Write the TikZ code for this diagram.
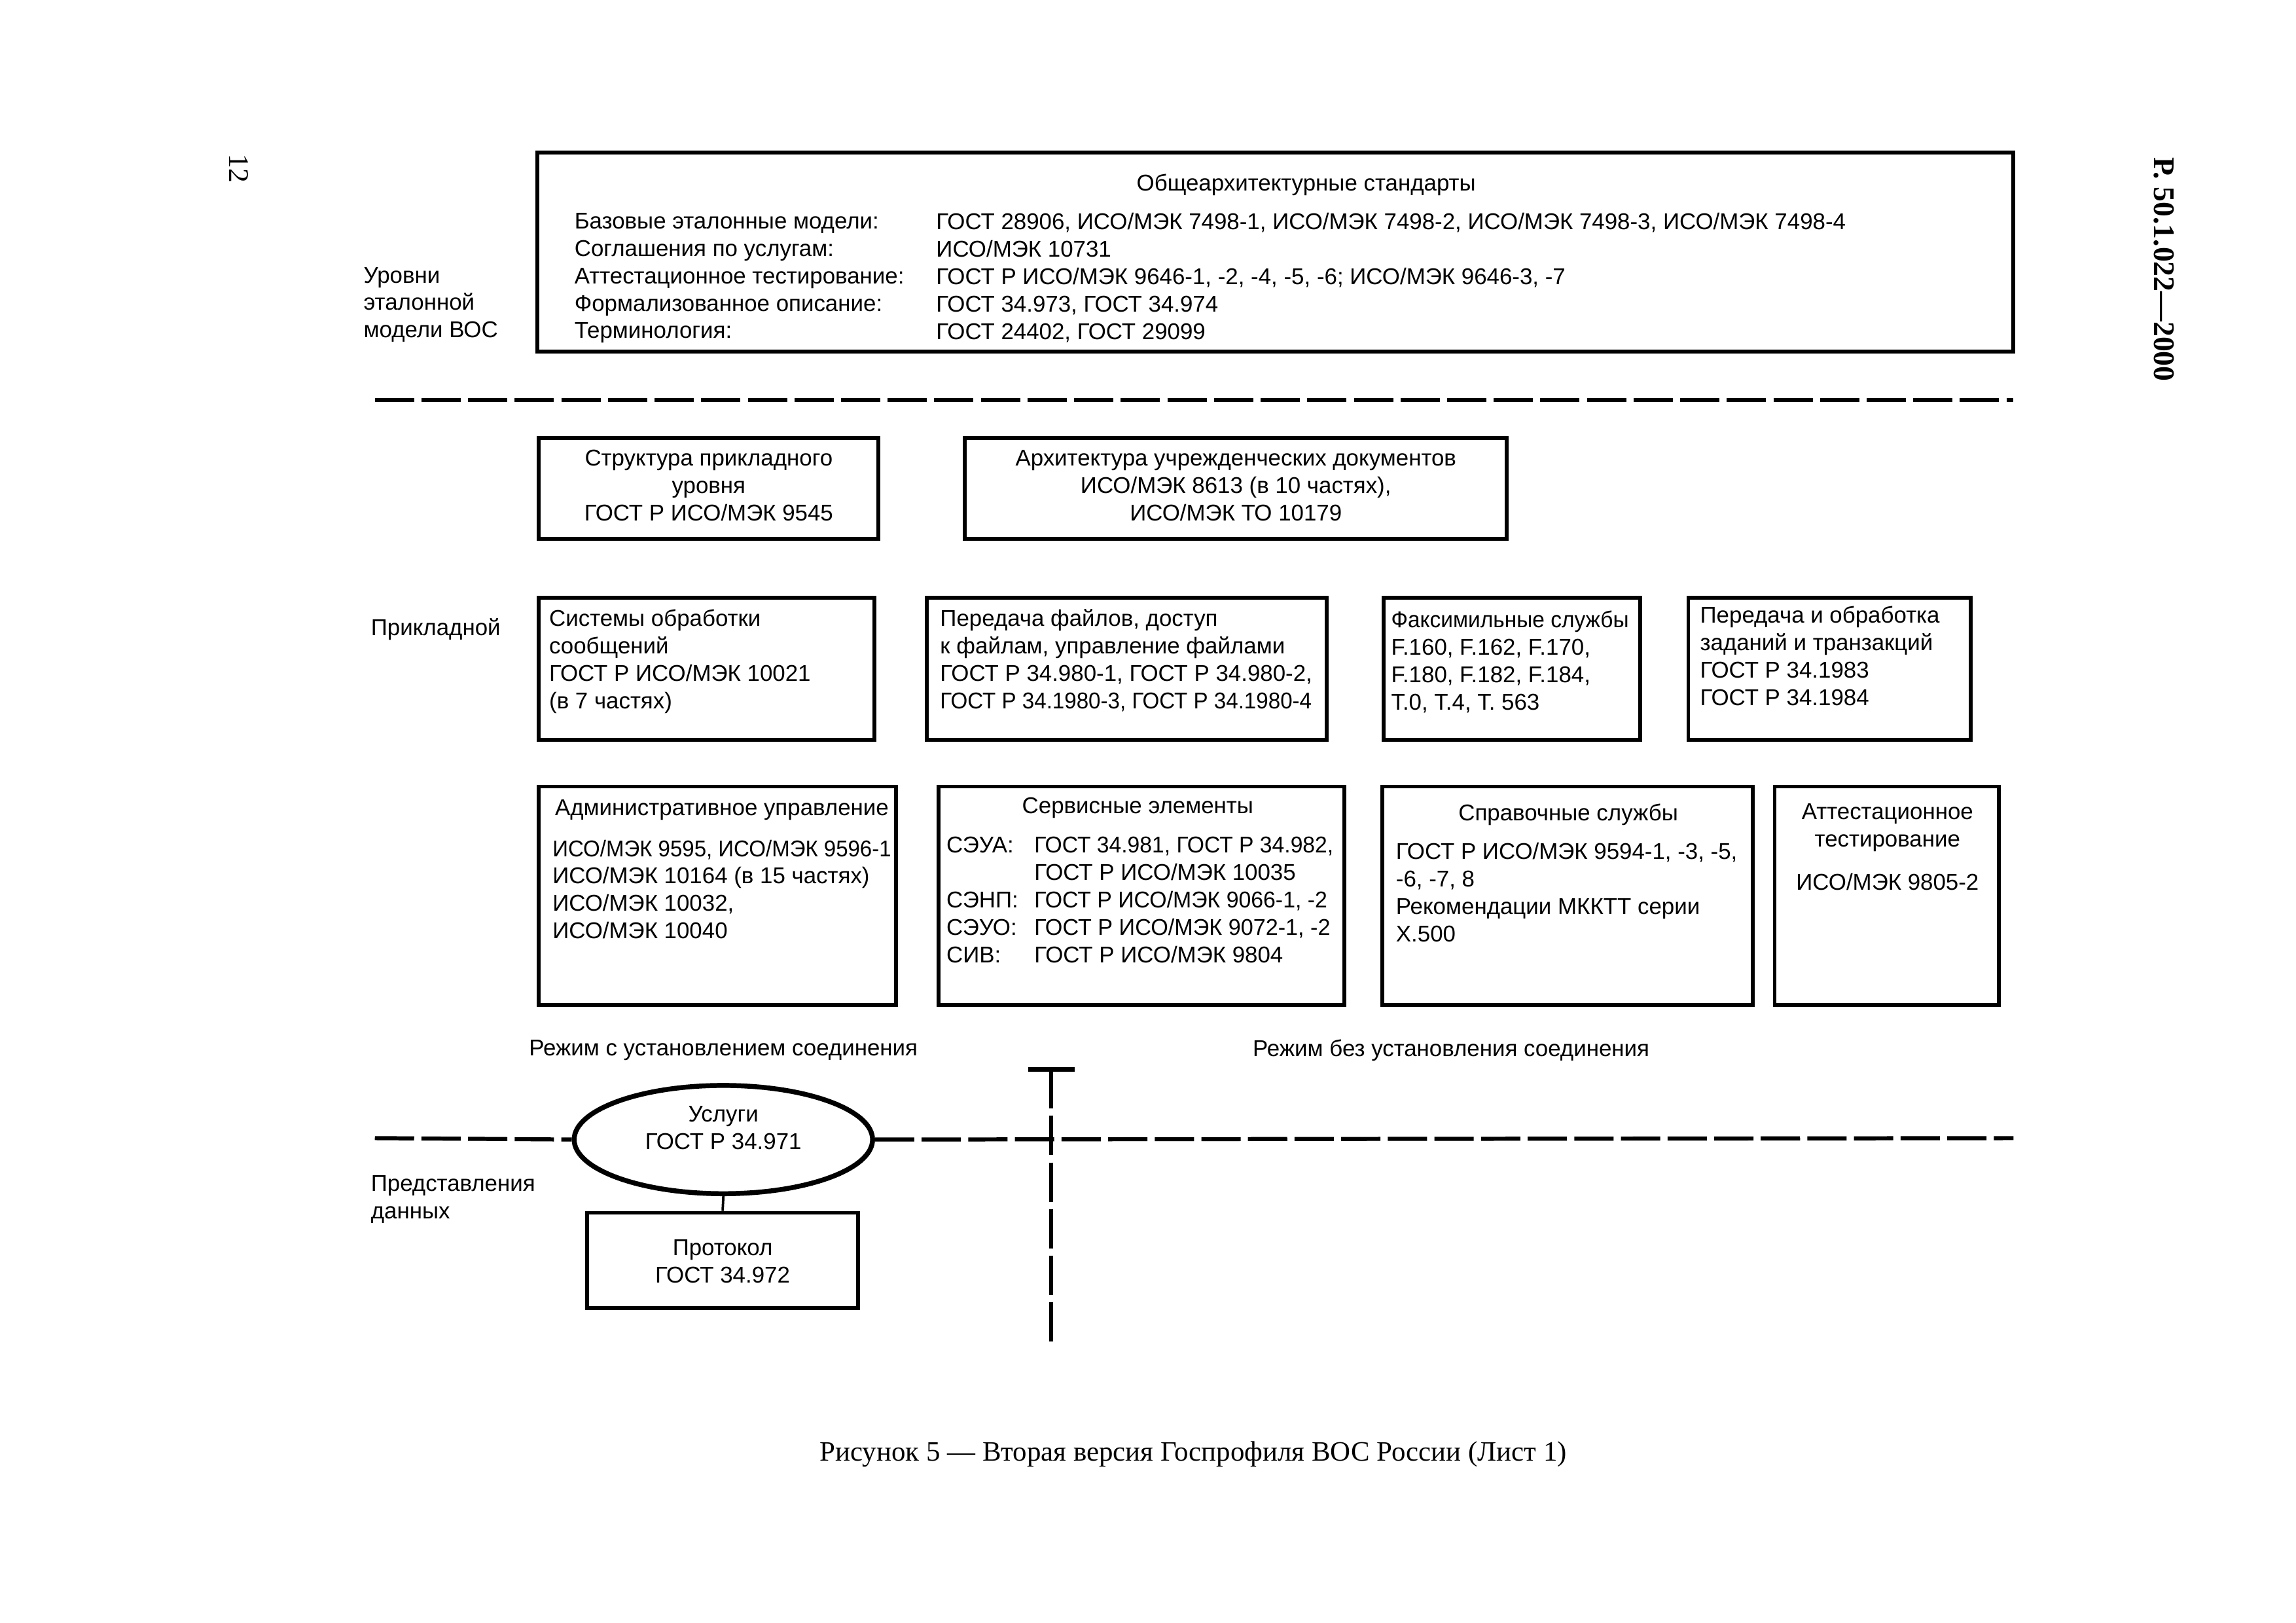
\documentclass[tikz,border=0pt]{standalone}
\usepackage{fontspec}
\setmainfont{Liberation Serif}
\setsansfont{Liberation Sans}
\usetikzlibrary{positioning, fit, shapes.geometric}
\newcommand{\diagfont}{\fontsize{8.4}{10.1}\selectfont}
\newcommand{\squeeze}[2]{{\addfontfeature{FakeStretch=#1}#2}}

\begin{document}
\begin{tikzpicture}[
    x=0.18941mm, y=-0.18941mm,
    box/.style={draw, line width=1.4pt, inner sep=0pt},
    txt/.style={inner sep=0pt, anchor=north west, align=left, font=\sffamily\diagfont},
    heading/.style={inner sep=0pt, align=center, font=\sffamily\diagfont},
    level/.style={line width=1.5pt, dash pattern=on 5.08mm off 0.95mm},
    link/.style={line width=0.9pt}
]
\useasboundingbox (0,0) rectangle (1568,1108);

% Page marks
\node[rotate=-90, font=\fontsize{10.5}{12}\selectfont] (pageno) at (163,115) {12};
\node[rotate=-90, font=\fontsize{11}{13}\selectfont\bfseries] (docno) at (1478,184) {Р. 50.1.022---2000};

% General architecture standards
\node[box, fit={(367,104)(1375,240)}] (general) {};
\node[heading] (generaltitle) at (892,126) {Общеархитектурные стандарты};
\node[txt] (genkeys) at (392,145) {Базовые эталонные модели:\\Соглашения по услугам:\\Аттестационное тестирование:\\Формализованное описание:\\Терминология:};
\node[txt] (genvals) at (639,145) {ГОСТ 28906, ИСО/МЭК 7498-1, ИСО/МЭК 7498-2, ИСО/МЭК 7498-3, ИСО/МЭК 7498-4\\ИСО/МЭК 10731\\ГОСТ Р ИСО/МЭК 9646-1, -2, -4, -5, -6; ИСО/МЭК 9646-3, -7\\ГОСТ 34.973, ГОСТ 34.974\\ГОСТ 24402, ГОСТ 29099};
\node[txt] (osilevels) at (248,182) {Уровни\\эталонной\\модели ВОС};

% Upper level line
\coordinate (topw) at (256,273);
\coordinate (tope) at (1375,273);
\draw[level] (topw) -- (tope);

% Application level
\node[box, fit={(368,299)(600,368)}] (applstruct) {};
\node[heading] (applstructtext) at (484,331.5) {Структура прикладного\\уровня\\ГОСТ Р ИСО/МЭК 9545};
\node[box, fit={(659,299)(1029,368)}] (officedoc) {};
\node[heading] (officedoctext) at (844,331.5) {Архитектура учрежденческих документов\\ИСО/МЭК 8613 (в 10 частях),\\ИСО/МЭК ТО 10179};
\node[txt] (appllevel) at (253,422) {Прикладной};

\node[box, fit={(368,408)(597,505)}] (mhs) {};
\node[txt] (mhstext) at ([shift={(8,9)}]mhs.north west) {Системы обработки\\сообщений\\ГОСТ Р ИСО/МЭК 10021\\(в 7 частях)};
\node[box, fit={(633,408)(906,505)}] (ftam) {};
\node[txt] (ftamtext) at ([shift={(10,9)}]ftam.north west) {Передача файлов, доступ\\к файлам, управление файлами\\ГОСТ Р 34.980-1, ГОСТ Р 34.980-2,\\\squeeze{0.95}{ГОСТ Р 34.1980-3, ГОСТ Р 34.1980-4}};
\node[box, fit={(945,408)(1120,505)}] (fax) {};
\node[txt] (faxtext) at ([shift={(6,10)}]fax.north west) {\squeeze{0.96}{Факсимильные службы}\\F.160, F.162, F.170,\\F.180, F.182, F.184,\\T.0, T.4, T. 563};
\node[box, fit={(1153,408)(1346,505)}] (jtm) {};
\node[txt] (jtmtext) at ([shift={(9,7)}]jtm.north west) {Передача и обработка\\заданий и транзакций\\ГОСТ Р 34.1983\\ГОСТ Р 34.1984};

\node[box, fit={(368,537)(612,686)}] (admin) {};
\node[heading] (admintitle) at (493,553) {Административное управление};
\node[txt] (admintext) at (377,573) {\squeeze{0.947}{ИСО/МЭК 9595, ИСО/МЭК 9596-1}\\ИСО/МЭК 10164 (в 15 частях)\\ИСО/МЭК 10032,\\ИСО/МЭК 10040};
\node[box, fit={(641,537)(918,686)}] (service) {};
\node[heading] (servicetitle) at (777,551.5) {Сервисные элементы};
\node[txt] (servkeys) at (646,571) {СЭУА:\\\\СЭНП:\\СЭУО:\\СИВ:};
\node[txt] (servvals) at (706,571) {\squeeze{0.965}{ГОСТ 34.981, ГОСТ Р 34.982,}\\ГОСТ Р ИСО/МЭК 10035\\\squeeze{0.97}{ГОСТ Р ИСО/МЭК 9066-1, -2}\\\squeeze{0.98}{ГОСТ Р ИСО/МЭК 9072-1, -2}\\ГОСТ Р ИСО/МЭК 9804};
\node[box, fit={(944,537)(1197,686)}] (directory) {};
\node[heading] (dirtitle) at (1071,556) {Справочные службы};
\node[txt] (dirtext) at (953,575) {ГОСТ Р ИСО/МЭК 9594-1, -3, -5,\\-6, -7, 8\\Рекомендации МККТТ серии\\X.500};
\node[box, fit={(1212,537)(1365,686)}] (conform) {};
\node[heading] (conftitle) at (1289,565) {Аттестационное\\тестирование};
\node[heading] (conftext) at (1289,602) {ИСО/МЭК 9805-2};

% Modes
\node[heading] (connmode) at (494,717) {Режим с установлением соединения};
\node[heading] (clmode) at (991,717) {Режим без установления соединения};
\coordinate (septop) at (718,730);
\coordinate (sepbot) at (718,916);
\draw[line width=1.6pt] ([shift={(-16,0)}]septop) -- ([shift={(16,0)}]septop);
\draw[level] (septop) -- (sepbot);

% Presentation level
\node[ellipse, draw, line width=1.8pt, inner sep=0pt, minimum width=38.6mm, minimum height=14mm] (services) at (494,778) {};
\node[heading] (servicestext) at (494,770) {Услуги\\ГОСТ Р 34.971};
\coordinate (loww) at (256,777);
\coordinate (lowe) at (1375,777);
\draw[level] (loww) -- (services.west);
\draw[level] (services.east) -- (lowe);
\node[txt] (preslevel) at (253,802) {Представления\\данных};
\node[box, fit={(401,828)(586,893)}] (protocol) {};
\node[heading] (protocoltext) at (493.5,861) {Протокол\\ГОСТ 34.972};
\draw[link] (services.south) -- (protocol.north);

% Caption
\node[font=\fontsize{10.33}{12.5}\selectfont] (caption) at (815,993) {Рисунок 5 --- Вторая версия Госпрофиля ВОС России (Лист 1)};

\end{tikzpicture}
\end{document}
